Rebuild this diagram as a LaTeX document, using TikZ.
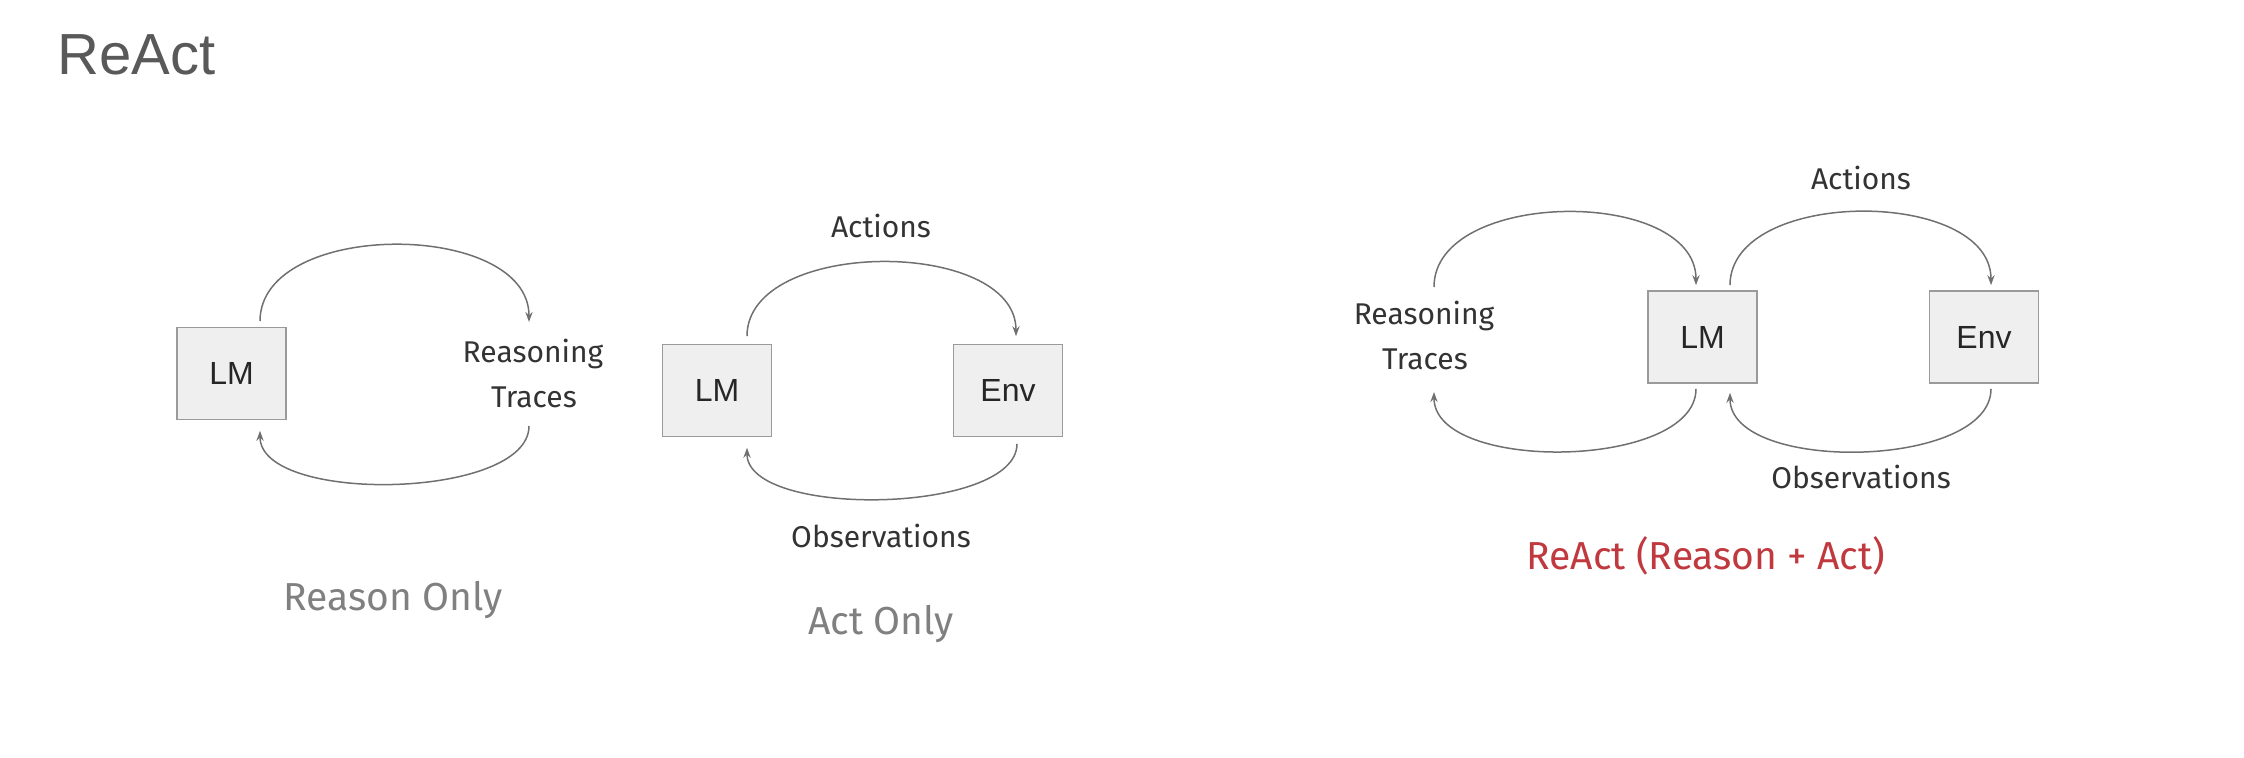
\documentclass[tikz,border=0pt]{standalone}
\usepackage{fontspec}
\setmainfont{Fira Sans}
\newfontfamily\boxfont{Liberation Sans}
\usetikzlibrary{arrows.meta,calc,positioning}
\definecolor{boxFill}{HTML}{EFEFEF}
\definecolor{boxLine}{HTML}{9A9A9A}
\definecolor{loopColor}{HTML}{707070}
\definecolor{captionGray}{HTML}{808080}
\definecolor{titleGray}{HTML}{595959}
\definecolor{reactRed}{HTML}{C0393F}
\tikzstyle{lmbox} = [draw=boxLine,fill=boxFill,line width=0.8pt,minimum width=54.5pt,minimum height=46pt,inner sep=0pt,font=\boxfont\fontsize{16}{19}\selectfont,text=black!85]
\tikzstyle{flowlabel} = [font=\fontsize{15}{18}\selectfont,text=black!80,anchor=base,inner sep=0pt]
\tikzstyle{caption} = [font=\fontsize{19.5}{24}\selectfont,anchor=base,inner sep=0pt]
\tikzstyle{loop} = [draw=loopColor,line width=0.75pt,->]

\begin{document}
\begin{tikzpicture}[x=0.5pt,y=-0.5pt,>={Stealth[length=5pt,width=3.6pt]}]
\useasboundingbox (0,0) rectangle (2244,758);
%
\node (title) [anchor=base west,inner sep=0pt,font=\boxfont\fontsize{29}{34}\selectfont,text=titleGray] at (57,75) {ReAct};

% reason only
\node (lm1) [lmbox] at (231.5,373.5) {LM};
\node (rt1a) [flowlabel] at (533,363) {Reasoning};
\node (rt1b) [flowlabel] at (534,408) {Traces};
\node (cap1) [caption,text=captionGray] at (393,611) {Reason Only};
\coordinate (lm1up) at ($(lm1.north)+(28.5,-5.5)$);
\coordinate (lm1dn) at ($(lm1.south)+(28.5,10.5)$);
\coordinate (rt1in) at (529,322);
\coordinate (rt1out) at (529,426);
\draw [loop] (lm1up) to[out=90,in=90,looseness=0.97] (rt1in);
\draw [loop] (rt1out) to[out=-90,in=-90,looseness=0.70] (lm1dn);

% act only
\node (lm2) [lmbox] at (717,390.5) {LM};
\node (env2) [lmbox] at (1008,390.5) {Env};
\node (act2) [flowlabel] at (881,238) {Actions};
\node (obs2) [flowlabel] at (881,548) {Observations};
\node (cap2) [caption,text=captionGray] at (881,635) {Act Only};
\coordinate (lm2up) at ($(lm2.north)+(30,-7.5)$);
\coordinate (lm2dn) at ($(lm2.south)+(30,10.5)$);
\coordinate (env2up) at ($(env2.north)+(8,-7.5)$);
\coordinate (env2dn) at ($(env2.south)+(9,6.5)$);
\draw [loop] (lm2up) to[out=90,in=90,looseness=0.94] (env2up);
\draw [loop] (env2dn) to[out=-90,in=-90,looseness=0.67] (lm2dn);

% react
\node (lm3) [lmbox] at (1702.5,337) {LM};
\node (env3) [lmbox] at (1984,337) {Env};
\node (rt3a) [flowlabel] at (1424,325) {Reasoning};
\node (rt3b) [flowlabel] at (1425,370) {Traces};
\node (act3) [flowlabel] at (1861,190) {Actions};
\node (obs3) [flowlabel] at (1861,489) {Observations};
\node (cap3) [caption,text=reactRed] at (1706,570) {ReAct (Reason + Act)};
\coordinate (rt3out) at (1434,287);
\coordinate (rt3in) at (1434,392);
\coordinate (lm3inup) at ($(lm3.north)+(-6.5,-5)$);
\coordinate (lm3outdn) at ($(lm3.south)+(-6.5,5)$);
\coordinate (lm3outup) at ($(lm3.north)+(27.5,-5)$);
\coordinate (lm3indn) at ($(lm3.south)+(27.5,9)$);
\coordinate (env3up) at ($(env3.north)+(7,-5)$);
\coordinate (env3dn) at ($(env3.south)+(7,5)$);
\draw [loop] (rt3out) to[out=90,in=90,looseness=0.96] (lm3inup);
\draw [loop] (lm3outdn) to[out=-90,in=-90,looseness=0.79] (rt3in);
\draw [loop] (lm3outup) to[out=90,in=90,looseness=0.96] (env3up);
\draw [loop] (env3dn) to[out=-90,in=-90,looseness=0.79] (lm3indn);
\end{tikzpicture}
\end{document}
